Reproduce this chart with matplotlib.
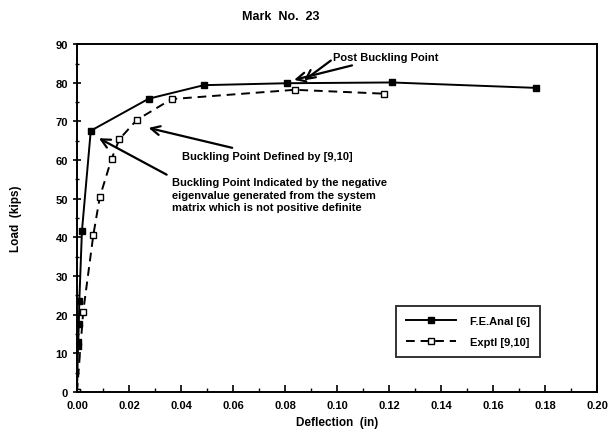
import matplotlib
matplotlib.use("Agg")
from matplotlib import pyplot as plt

plt.rcParams['font.family'] = ['Liberation Sans', 'DejaVu Sans']
plt.rcParams['font.weight'] = 'bold'

# F.E. analysis curve
fe_x = [0.0, 0.0004, 0.0005, 0.0007, 0.0009, 0.0019, 0.0053, 0.0276, 0.0488, 0.0806, 0.121, 0.1765]
fe_y = [0.0, 12.0, 13.0, 17.6, 23.6, 41.6, 67.6, 75.9, 79.4, 79.9, 80.1, 78.7]
# experimental curve
ex_x = [0.0, 0.0024, 0.0063, 0.0088, 0.0133, 0.0163, 0.023, 0.0364, 0.0838, 0.118]
ex_y = [0.0, 20.8, 40.7, 50.5, 60.3, 65.4, 70.4, 75.8, 78.2, 77.2]

fig = plt.figure(figsize=(6.11, 4.39), dpi=100)
ax = fig.add_axes([0.126, 0.105, 0.851, 0.792])

ax.plot(fe_x, fe_y, '-', color='black', lw=1.4, marker='s', ms=3.8,
        markerfacecolor='black', label='F.E.Anal [6]')
ax.plot(ex_x, ex_y, color='black', lw=1.4, dashes=(4.5, 3), marker='s', ms=3.8,
        markerfacecolor='white', label='Exptl [9,10]')

ax.set_xlim(0, 0.2)
ax.set_ylim(0, 90)
ax.set_xticks([i * 0.02 for i in range(11)])
ax.set_xticklabels(['%.2f' % (i * 0.02) for i in range(11)])
ax.set_xticks([i * 0.01 for i in range(21)], minor=True)
ax.set_yticks(range(0, 91, 10))
ax.set_yticks(range(0, 91, 5), minor=True)
ax.tick_params(axis='x', which='major', direction='in', length=5, width=1.2, labelsize=8, pad=6)
ax.tick_params(axis='x', which='minor', direction='in', length=3, width=1)
ax.tick_params(axis='y', which='major', direction='inout', length=6, width=1.2, labelsize=8)
ax.tick_params(axis='y', which='minor', direction='inout', length=3, width=1)
for s in ax.spines.values():
    s.set_linewidth(1.4)

ax.set_xlabel('Deflection  (in)', fontsize=8.5, fontweight='bold')
ax.set_ylabel('Load  (kips)', fontsize=8.5, fontweight='bold', labelpad=24)
fig.text(0.46, 0.962, 'Mark  No.  23', ha='center', va='center', fontsize=9, fontweight='bold')

arr = dict(arrowstyle='->', color='black', lw=1.6, mutation_scale=16)
ax.annotate('Post Buckling Point', xy=(0.0825, 80.6), xytext=(0.0985, 86.7),
            fontsize=8, fontweight='bold', va='center', arrowprops=arr)
ax.annotate('', xy=(0.0865, 80.2), xytext=(0.0985, 86.2), arrowprops=arr)
ax.annotate('Buckling Point Defined by [9,10]', xy=(0.0265, 68.5), xytext=(0.0405, 61.0),
            fontsize=8, fontweight='bold', va='center', arrowprops=arr)
ax.annotate('Buckling Point Indicated by the negative\neigenvalue generated from the system\nmatrix which is not positive definite',
            xy=(0.0075, 66.0), xytext=(0.0365, 51.0), fontsize=8, fontweight='bold',
            va='center', ha='left', linespacing=1.3,
            arrowprops=dict(arrowstyle='->', color='black', lw=1.6, mutation_scale=16,
                            relpos=(0.0, 1.0), shrinkA=2))

leg = ax.legend(loc='lower right', bbox_to_anchor=(0.89, 0.1), fontsize=8,
                frameon=True, fancybox=False, edgecolor='black', handlelength=4.5,
                handletextpad=1.2, borderpad=0.9, labelspacing=1.0, borderaxespad=0)
leg.get_frame().set_linewidth(1.4)

plt.savefig('out.png', dpi=100)
